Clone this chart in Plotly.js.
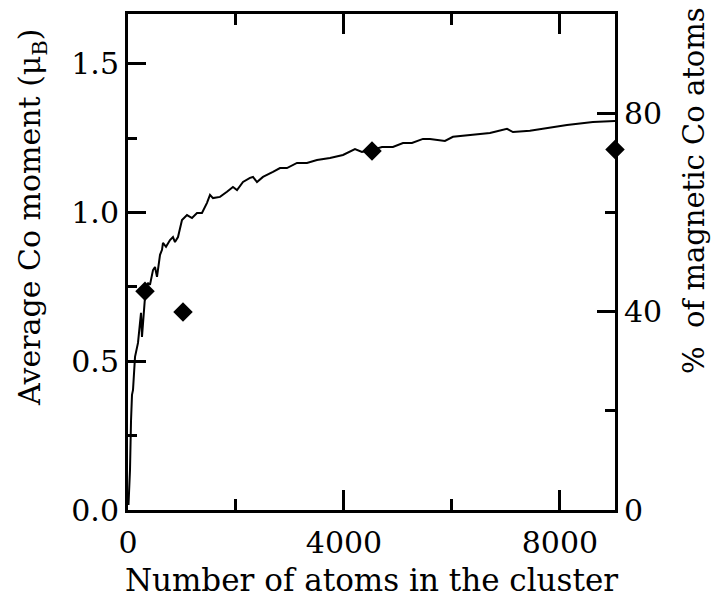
<!DOCTYPE html>
<html>
<head>
<meta charset="utf-8">
<script src="https://cdn.plot.ly/plotly-3.0.1.min.js"></script>
<style>html,body{margin:0;padding:0;background:#fff;}#chart{width:713px;height:600px;}</style>
</head>
<body>
<div id="chart"></div>
<script>
// Simulated average Co moment vs. cluster size (left axis, μB)
var curveAtoms = [9, 37, 56, 74, 93, 130, 185, 222, 241, 259, 315, 370, 407, 463, 500, 537, 593, 630, 648, 704, 778, 833, 870, 926, 1000, 1093, 1185, 1278, 1370, 1463, 1519, 1574, 1704, 1833, 1944, 2019, 2130, 2259, 2315, 2389, 2500, 2685, 2815, 2944, 3130, 3315, 3500, 3741, 3982, 4204, 4333, 4519, 4704, 4907, 5093, 5259, 5463, 5593, 5870, 6019, 6333, 6704, 7019, 7130, 7444, 7759, 8130, 8611, 8981, 9020];
var curveMoment = [0.017, 0.135, 0.30, 0.387, 0.404, 0.515, 0.562, 0.639, 0.663, 0.582, 0.716, 0.764, 0.757, 0.807, 0.817, 0.784, 0.858, 0.875, 0.898, 0.885, 0.908, 0.918, 0.901, 0.918, 0.975, 0.992, 0.982, 0.999, 0.999, 1.033, 1.060, 1.049, 1.053, 1.070, 1.086, 1.076, 1.103, 1.117, 1.120, 1.103, 1.120, 1.137, 1.150, 1.150, 1.167, 1.167, 1.177, 1.184, 1.194, 1.214, 1.204, 1.211, 1.221, 1.221, 1.234, 1.234, 1.248, 1.248, 1.241, 1.255, 1.261, 1.268, 1.282, 1.271, 1.275, 1.285, 1.295, 1.305, 1.308, 1.308];

// Percentage of magnetic Co atoms (right axis)
var pointAtoms = [315, 1019, 4519, 9020];
var pointPercent = [44.1, 39.9, 72.4, 72.7];

var xTickVals = [0, 4000, 8000];
var yTickVals = [0, 0.5, 1.0, 1.5];
var y2TickVals = [0, 40, 80];

var xTitle = 'Number of atoms in the cluster';
var yTitle = 'Average Co moment (\u03bc<sub>B</sub>)';
var y2Title = '%\u00a0 of magnetic Co atoms';

var FONT = "DejaVu Serif";

var traces = [
  {
    x: curveAtoms, y: curveMoment, type: 'scatter', mode: 'lines',
    line: {color: '#000', width: 2}, yaxis: 'y', showlegend: false, hoverinfo: 'skip'
  },
  {
    x: pointAtoms, y: pointPercent, type: 'scatter', mode: 'markers',
    marker: {symbol: 'diamond', size: 15, color: '#000'},
    yaxis: 'y2', showlegend: false, cliponaxis: false
  }
];

var layout = {
  width: 713, height: 600,
  margin: {l: 128, r: 98, t: 14, b: 90},
  paper_bgcolor: '#fff', plot_bgcolor: '#fff',
  font: {family: FONT, color: '#000', size: 30},
  showlegend: false,
  xaxis: {
    range: [0, 9020], showgrid: false, zeroline: false,
    showline: true, linecolor: '#000', linewidth: 3, mirror: 'ticks',
    ticks: 'inside', ticklen: 20, tickwidth: 3, tickcolor: '#000',
    tickvals: xTickVals, ticktext: xTickVals.map(String),
    minor: {dtick: 2000, tick0: 0, ticks: 'inside', ticklen: 11, tickwidth: 3, tickcolor: '#000'},
    tickfont: {family: FONT, size: 30, color: '#000'},
    ticklabelstandoff: 4,
    title: {text: xTitle, font: {family: FONT, size: 31, color: '#000'}, standoff: 11}
  },
  yaxis: {
    range: [0, 1.668], showgrid: false, zeroline: false,
    showline: true, linecolor: '#000', linewidth: 3,
    ticks: 'inside', ticklen: 18, tickwidth: 3, tickcolor: '#000',
    tickvals: yTickVals, ticktext: yTickVals.map(function(v){return v.toFixed(1);}),
    minor: {dtick: 0.25, tick0: 0, ticks: 'inside', ticklen: 9, tickwidth: 3, tickcolor: '#000'},
    tickfont: {family: FONT, size: 30, color: '#000'}
  },
  yaxis2: {
    overlaying: 'y', side: 'right', range: [0, 100],
    showgrid: false, zeroline: false,
    showline: true, linecolor: '#000', linewidth: 3,
    ticks: 'inside', ticklen: 18, tickwidth: 3, tickcolor: '#000',
    tickvals: y2TickVals, ticktext: y2TickVals.map(String),
    minor: {dtick: 20, tick0: 0, ticks: 'inside', ticklen: 10, tickwidth: 3, tickcolor: '#000'},
    tickfont: {family: FONT, size: 30, color: '#000'}
  },
  annotations: [
    {text: yTitle, xref: 'paper', yref: 'paper', x: -0.197, y: 0.589,
     xanchor: 'center', yanchor: 'middle', textangle: -90, showarrow: false,
     font: {family: FONT, size: 30, color: '#000'}},
    {text: y2Title, xref: 'paper', yref: 'paper', x: 1.162, y: 0.645,
     xanchor: 'center', yanchor: 'middle', textangle: -90, showarrow: false,
     font: {family: FONT, size: 29, color: '#000'}}
  ]
};

Plotly.newPlot('chart', traces, layout, {displayModeBar: false, staticPlot: true});
</script>
</body>
</html>
